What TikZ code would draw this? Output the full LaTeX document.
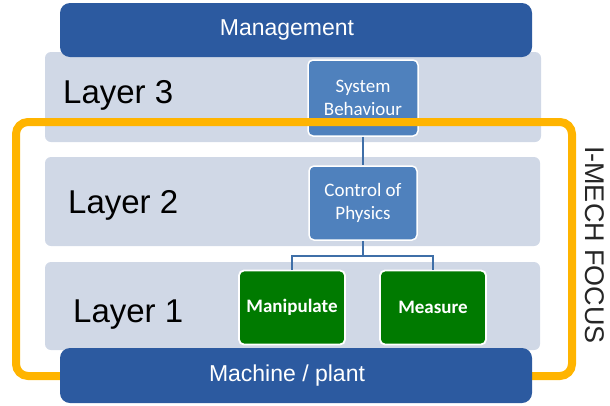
\documentclass[tikz,border=0pt]{standalone}
\usepackage{fontspec}
\setmainfont{Liberation Sans}
\newfontfamily\boxfont{Carlito}
\definecolor{dkblue}{HTML}{2C5AA0}
\definecolor{band}{HTML}{D0D8E6}
\definecolor{midblue}{HTML}{4F81BD}
\definecolor{grn}{HTML}{007A00}
\definecolor{orng}{HTML}{FFB400}
\definecolor{conn}{HTML}{3F6FA8}
\begin{document}
\begin{tikzpicture}[x=1pt,y=-1pt,
  bandbox/.style={fill=band,draw=none,rounded corners=6pt,inner sep=0pt},
  darkbox/.style={fill=dkblue,draw=none,rounded corners=10pt,inner sep=0pt,minimum width=472pt,minimum height=54pt},
  bluebox/.style={fill=midblue,draw=white,line width=1.5pt,rounded corners=5pt,inner sep=0pt,minimum width=108pt,text=white,font=\boxfont\fontsize{19}{23}\selectfont,align=center},
  greenbox/.style={fill=grn,draw=white,line width=1.8pt,rounded corners=5pt,inner sep=0pt,minimum width=106pt,minimum height=74pt,text=white,font=\boxfont\bfseries\fontsize{19}{23}\selectfont},
  layerlbl/.style={anchor=base west,inner sep=0pt,font=\fontsize{33}{36}\selectfont},
  whitelbl/.style={inner sep=0pt,text=white,font=\fontsize{23}{26}\selectfont},
  link/.style={draw=conn,line width=1.6pt}]
\useasboundingbox (0,0) rectangle (610,405);
% layer bands
\node[bandbox,minimum width=496pt,minimum height=90pt] (band3) at (293,97) {};
\node[bandbox,minimum width=495pt,minimum height=89pt] (band2) at (292.5,201.5) {};
\node[bandbox,minimum width=495pt,minimum height=88pt] (band1) at (292.5,306) {};
% management
\node[darkbox] (mgmt) at (296,30) {};
\node[whitelbl] (mgmtlbl) at (287,30) {Management};
% layer labels
\node[layerlbl] (l3) at (63,103) {Layer 3};
\node[layerlbl] (l2) at (68,213) {Layer 2};
\node[layerlbl] (l1) at (73,322) {Layer 1};
% boxes
\node[bluebox,minimum width=110pt,minimum height=76pt] (sysb) at (363,98) {System\\Behaviour};
\node[bluebox,minimum height=74pt] (ctrl) at (363,203) {Control of\\Physics};
\node[greenbox] (manip) at (292,307.5) {Manipulate};
\node[greenbox] (meas) at (433,307.5) {Measure};
% connectors
\coordinate (split) at (363,256);
\draw[link] (sysb.south) -- (ctrl.north);
\draw[link] (ctrl.south) -- (split);
\draw[link] (manip.north) |- (split) -| (meas.north);
% focus frame
\node[draw=orng,line width=8pt,rounded corners=12pt,inner sep=0pt,minimum width=556pt,minimum height=254pt] (focus) at (294,249) {};
\node[rotate=-90,inner sep=0pt,text=black!85,font=\fontsize{27}{30}\selectfont] (focuslbl) at (595,245) {I-MECH FOCUS};
% machine
\node[darkbox,minimum height=55pt] (mach) at (296,375.5) {};
\node[whitelbl] (machlbl) at (287,376) {Machine / plant};
\end{tikzpicture}
\end{document}
